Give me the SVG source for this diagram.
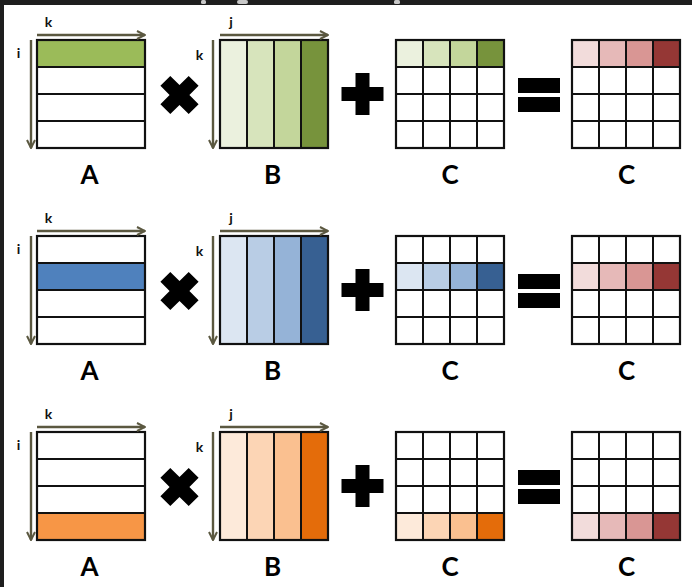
<svg xmlns="http://www.w3.org/2000/svg" width="692" height="587" viewBox="0 0 692 587">
  <defs>
    <marker id="head" viewBox="0 0 10 10" refX="9" refY="5" markerWidth="10" markerHeight="10" markerUnits="userSpaceOnUse" orient="auto">
      <polyline points="1,1 9,5 1,9" fill="none" stroke="#5b5840" stroke-width="2"/>
    </marker>
    <path id="times" d="M0,-9.9 L9.2,-19.1 L19.1,-9.2 L9.9,0 L19.1,9.2 L9.2,19.1 L0,9.9 L-9.2,19.1 L-19.1,9.2 L-9.9,0 L-19.1,-9.2 L-9.2,-19.1 Z" fill="#000"/>
    <path id="plus" d="M-7,-21 H7 V-7 H21 V7 H7 V21 H-7 V7 H-21 V-7 H-7 Z" fill="#000"/>
    <g id="equals" fill="#000">
      <rect x="518" y="78" width="42" height="15"/>
      <rect x="518" y="97" width="42" height="15"/>
    </g>
    <!-- 4x4 grid lines, 27px cells, origin at the matrix top-left -->
    <path id="grid4" d="M27,0 V108 M54,0 V108 M81,0 V108 M0,27 H108 M0,54 H108 M0,81 H108" fill="none" stroke="#111" stroke-width="2"/>
    <path id="rows4" d="M0,27 H108 M0,54 H108 M0,81 H108" fill="none" stroke="#111" stroke-width="2"/>
    <path id="cols4" d="M27,0 V108 M54,0 V108 M81,0 V108" fill="none" stroke="#111" stroke-width="2"/>
  </defs>
  <style>
    .frame { fill: #1e1e1e; }
    .box { fill: none; stroke: #111; stroke-width: 2.2; }
    .axis { fill: none; stroke: #5b5840; stroke-width: 2.4; marker-end: url(#head); }
    .idx { font-family: Lato, "Open Sans", sans-serif; font-weight: bold; font-size: 14px; fill: #111; text-anchor: middle; }
    .name { font-family: Lato, "Open Sans", sans-serif; font-weight: bold; font-size: 26px; fill: #000; text-anchor: middle; }
    .frag { fill: #c8c8c8; }
  </style>

  <!-- page background with dark window edge -->
  <rect x="0" y="0" width="692" height="587" fill="#ffffff"/>
  <rect class="frame" x="0" y="0" width="692" height="5"/>
  <rect class="frame" x="0" y="0" width="4" height="587"/>
  <rect class="frag" x="201" y="0" width="5" height="4" rx="1.5"/>
  <rect class="frag" x="237" y="0" width="11" height="4" rx="2"/>
  <rect class="frag" x="394" y="0" width="6" height="4" rx="1.5"/>

  <!-- ===== row 1 : first row of A ===== -->
  <g id="row1">
    <g id="A1">
      <rect x="37" y="40" width="108" height="108" fill="#fff"/>
      <rect x="37" y="40" width="108" height="27" fill="#9bbb59"/>
      <use href="#rows4" x="37" y="40"/>
      <rect class="box" x="37" y="40" width="108" height="108"/>
      <text class="name" x="89.5" y="184">A</text>
    </g>
    <g id="times1"><use href="#times" x="179.5" y="95"/></g>
    <g id="B1">
      <rect x="220" y="40" width="27" height="108" fill="#ebf1de"/>
      <rect x="247" y="40" width="27" height="108" fill="#d7e4bc"/>
      <rect x="274" y="40" width="27" height="108" fill="#c3d69b"/>
      <rect x="301" y="40" width="27" height="108" fill="#77933c"/>
      <use href="#cols4" x="220" y="40"/>
      <rect class="box" x="220" y="40" width="108" height="108"/>
      <text class="name" x="272.5" y="184">B</text>
    </g>
    <g id="plus1"><use href="#plus" x="362.5" y="94"/></g>
    <g id="C1">
      <rect x="396" y="40" width="108" height="108" fill="#fff"/>
      <rect x="396" y="40" width="27" height="27" fill="#ebf1de"/>
      <rect x="423" y="40" width="27" height="27" fill="#d7e4bc"/>
      <rect x="450" y="40" width="27" height="27" fill="#c3d69b"/>
      <rect x="477" y="40" width="27" height="27" fill="#77933c"/>
      <use href="#grid4" x="396" y="40"/>
      <rect class="box" x="396" y="40" width="108" height="108"/>
      <text class="name" x="450" y="184">C</text>
    </g>
    <g id="equals1"><use href="#equals"/></g>
    <g id="R1">
      <rect x="572" y="40" width="108" height="108" fill="#fff"/>
      <rect x="572" y="40" width="27" height="27" fill="#f2dcdb"/>
      <rect x="599" y="40" width="27" height="27" fill="#e6b9b8"/>
      <rect x="626" y="40" width="27" height="27" fill="#d99694"/>
      <rect x="653" y="40" width="27" height="27" fill="#953735"/>
      <use href="#grid4" x="572" y="40"/>
      <rect class="box" x="572" y="40" width="108" height="108"/>
      <text class="name" x="626.5" y="184">C</text>
    </g>
  </g>

  <!-- ===== row 2 : second row of A ===== -->
  <g id="row2" transform="translate(0,196)">
    <g id="A2">
      <rect x="37" y="40" width="108" height="108" fill="#fff"/>
      <rect x="37" y="67" width="108" height="27" fill="#4f81bd"/>
      <use href="#rows4" x="37" y="40"/>
      <rect class="box" x="37" y="40" width="108" height="108"/>
      <text class="name" x="89.5" y="184">A</text>
    </g>
    <g id="times2"><use href="#times" x="179.5" y="95"/></g>
    <g id="B2">
      <rect x="220" y="40" width="27" height="108" fill="#dce6f2"/>
      <rect x="247" y="40" width="27" height="108" fill="#b9cde5"/>
      <rect x="274" y="40" width="27" height="108" fill="#95b3d7"/>
      <rect x="301" y="40" width="27" height="108" fill="#376092"/>
      <use href="#cols4" x="220" y="40"/>
      <rect class="box" x="220" y="40" width="108" height="108"/>
      <text class="name" x="272.5" y="184">B</text>
    </g>
    <g id="plus2"><use href="#plus" x="362.5" y="94"/></g>
    <g id="C2">
      <rect x="396" y="40" width="108" height="108" fill="#fff"/>
      <rect x="396" y="67" width="27" height="27" fill="#dce6f2"/>
      <rect x="423" y="67" width="27" height="27" fill="#b9cde5"/>
      <rect x="450" y="67" width="27" height="27" fill="#95b3d7"/>
      <rect x="477" y="67" width="27" height="27" fill="#376092"/>
      <use href="#grid4" x="396" y="40"/>
      <rect class="box" x="396" y="40" width="108" height="108"/>
      <text class="name" x="450" y="184">C</text>
    </g>
    <g id="equals2"><use href="#equals"/></g>
    <g id="R2">
      <rect x="572" y="40" width="108" height="108" fill="#fff"/>
      <rect x="572" y="67" width="27" height="27" fill="#f2dcdb"/>
      <rect x="599" y="67" width="27" height="27" fill="#e6b9b8"/>
      <rect x="626" y="67" width="27" height="27" fill="#d99694"/>
      <rect x="653" y="67" width="27" height="27" fill="#953735"/>
      <use href="#grid4" x="572" y="40"/>
      <rect class="box" x="572" y="40" width="108" height="108"/>
      <text class="name" x="626.5" y="184">C</text>
    </g>
  </g>

  <!-- ===== row 3 : last row of A ===== -->
  <g id="row3" transform="translate(0,392)">
    <g id="A3">
      <rect x="37" y="40" width="108" height="108" fill="#fff"/>
      <rect x="37" y="121" width="108" height="27" fill="#f79646"/>
      <use href="#rows4" x="37" y="40"/>
      <rect class="box" x="37" y="40" width="108" height="108"/>
      <text class="name" x="89.5" y="184">A</text>
    </g>
    <g id="times3"><use href="#times" x="179.5" y="95"/></g>
    <g id="B3">
      <rect x="220" y="40" width="27" height="108" fill="#fdeada"/>
      <rect x="247" y="40" width="27" height="108" fill="#fcd5b5"/>
      <rect x="274" y="40" width="27" height="108" fill="#fac090"/>
      <rect x="301" y="40" width="27" height="108" fill="#e46c0a"/>
      <use href="#cols4" x="220" y="40"/>
      <rect class="box" x="220" y="40" width="108" height="108"/>
      <text class="name" x="272.5" y="184">B</text>
    </g>
    <g id="plus3"><use href="#plus" x="362.5" y="94"/></g>
    <g id="C3">
      <rect x="396" y="40" width="108" height="108" fill="#fff"/>
      <rect x="396" y="121" width="27" height="27" fill="#fdeada"/>
      <rect x="423" y="121" width="27" height="27" fill="#fcd5b5"/>
      <rect x="450" y="121" width="27" height="27" fill="#fac090"/>
      <rect x="477" y="121" width="27" height="27" fill="#e46c0a"/>
      <use href="#grid4" x="396" y="40"/>
      <rect class="box" x="396" y="40" width="108" height="108"/>
      <text class="name" x="450" y="184">C</text>
    </g>
    <g id="equals3"><use href="#equals"/></g>
    <g id="R3">
      <rect x="572" y="40" width="108" height="108" fill="#fff"/>
      <rect x="572" y="121" width="27" height="27" fill="#f2dcdb"/>
      <rect x="599" y="121" width="27" height="27" fill="#e6b9b8"/>
      <rect x="626" y="121" width="27" height="27" fill="#d99694"/>
      <rect x="653" y="121" width="27" height="27" fill="#953735"/>
      <use href="#grid4" x="572" y="40"/>
      <rect class="box" x="572" y="40" width="108" height="108"/>
      <text class="name" x="626.5" y="184">C</text>
    </g>
  </g>

  <!-- index axes with their letters -->
  <g id="connectors">
    <g id="axes1">
      <line class="axis" x1="37" y1="35" x2="145" y2="35"/>
      <line class="axis" x1="31" y1="40" x2="31" y2="148"/>
      <line class="axis" x1="220" y1="35" x2="328" y2="35"/>
      <line class="axis" x1="213" y1="40" x2="213" y2="148"/>
      <text class="idx" x="48.5" y="27">k</text>
      <text class="idx" x="18.5" y="58">i</text>
      <text class="idx" x="231" y="27">j</text>
      <text class="idx" x="199.5" y="60">k</text>
    </g>
    <g id="axes2" transform="translate(0,196)">
      <line class="axis" x1="37" y1="35" x2="145" y2="35"/>
      <line class="axis" x1="31" y1="40" x2="31" y2="148"/>
      <line class="axis" x1="220" y1="35" x2="328" y2="35"/>
      <line class="axis" x1="213" y1="40" x2="213" y2="148"/>
      <text class="idx" x="48.5" y="27">k</text>
      <text class="idx" x="18.5" y="58">i</text>
      <text class="idx" x="231" y="27">j</text>
      <text class="idx" x="199.5" y="60">k</text>
    </g>
    <g id="axes3" transform="translate(0,392)">
      <line class="axis" x1="37" y1="35" x2="145" y2="35"/>
      <line class="axis" x1="31" y1="40" x2="31" y2="148"/>
      <line class="axis" x1="220" y1="35" x2="328" y2="35"/>
      <line class="axis" x1="213" y1="40" x2="213" y2="148"/>
      <text class="idx" x="48.5" y="27">k</text>
      <text class="idx" x="18.5" y="58">i</text>
      <text class="idx" x="231" y="27">j</text>
      <text class="idx" x="199.5" y="60">k</text>
    </g>
  </g>
</svg>
